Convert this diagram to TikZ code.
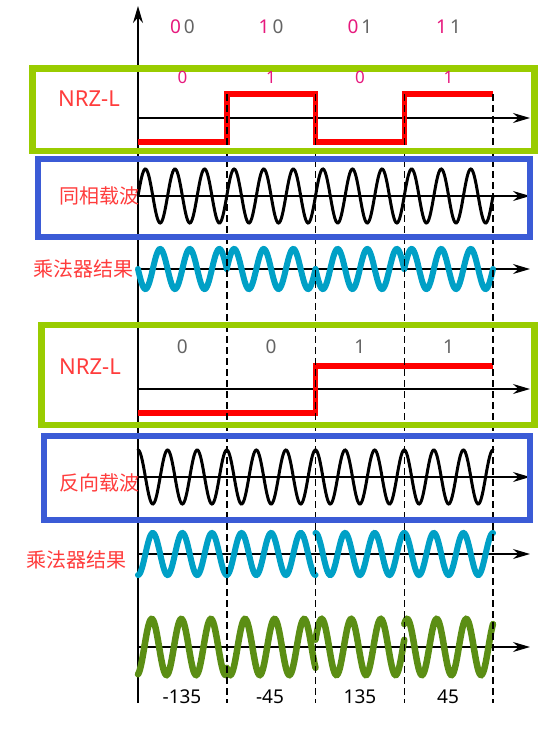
\documentclass[tikz,border=0pt]{standalone}
\usepackage{fontspec}
\setmainfont{Noto Sans}
\newfontfamily\cjk{Noto Sans CJK SC}
\usetikzlibrary{arrows.meta}
\definecolor{txtred}{RGB}{255,60,60}
\definecolor{nrzred}{RGB}{255,0,0}
\definecolor{boxgreen}{RGB}{153,204,0}
\definecolor{boxblue}{RGB}{59,91,214}
\definecolor{wavecyan}{RGB}{0,160,198}
\definecolor{waveolive}{RGB}{91,142,20}
\definecolor{bitmag}{RGB}{230,25,125}
\definecolor{bitgray}{RGB}{100,100,100}
\begin{document}
\begin{tikzpicture}[x=1pt,y=-1pt,
  axis/.style={line width=1.3pt,-{Stealth[length=17pt,width=10pt]}},
  bitline/.style={line width=1.5pt,dash pattern=on 7pt off 4pt},
  nrz/.style={nrzred,line width=5.5pt},
  carrier/.style={line width=3pt,line cap=round},
  mulwave/.style={wavecyan,line width=6pt,line cap=round},
  sumwave/.style={waveolive,line width=6.5pt,line cap=round},
  greenframe/.style={boxgreen,line width=6.5pt},
  blueframe/.style={boxblue,line width=6pt},
  namelbl/.style={txtred,font=\fontsize{22}{26}\selectfont},
  cjklbl/.style={txtred,font=\fontsize{20}{24}\selectfont\cjk},
  pairlbl/.style={font=\fontsize{19}{22}\selectfont},
  bitlbl/.style={font=\fontsize{17}{20}\selectfont},
  phaselbl/.style={font=\fontsize{19}{22}\selectfont}]
\useasboundingbox (0,0) rectangle (543,734);
% axes
\coordinate (vbot) at (138,703);
\coordinate (vtop) at (138,6);
\draw[axis] (vbot) -- (vtop);
\foreach \n/\y in {nrzA/118,carA/196,mulA/269,nrzB/389,carB/477,mulB/554,sum/647}{
  \coordinate (\n-l) at (138,\y);
  \coordinate (\n-r) at (530,\y);
  \draw[axis] (\n-l) -- (\n-r);
}
% NRZ-L signals
\draw[nrz] (138,142) -- (226.75,142) -- (226.75,94) -- (315.5,94) -- (315.5,142) -- (404.25,142) -- (404.25,94) -- (493,94);
\draw[nrz] (138,413) -- (315.5,413) -- (315.5,366) -- (493,366);
% carriers
\draw[carrier] plot[domain=138:493,samples=400] (\x,{196-27*sin(12.169*(\x-138))});
\draw[carrier] plot[domain=138:493,samples=400] (\x,{477-27*cos(12.169*(\x-138))});
% multiplier outputs
\foreach \a/\b/\sg in {138/226.75/-1,226.75/315.5/1,315.5/404.25/-1,404.25/493/1}
  \draw[mulwave] plot[domain=\a:\b,samples=100] (\x,{269-20*(\sg)*sin(12.169*(\x-138))});
\foreach \a/\b/\sg in {138/315.5/-1,315.5/493/1}
  \draw[mulwave] plot[domain=\a:\b,samples=200] (\x,{554-21*(\sg)*cos(12.169*(\x-138))});
% sum of both branches
\foreach \a/\b/\ph in {138/226.75/167,226.75/315.5/222,315.5/404.25/75,404.25/493/35}
  \draw[sumwave] plot[domain=\a:\b,samples=100] (\x,{647-28*cos(12.169*(\x-\a)-\ph)});
% symbol borders
\foreach \n/\x in {b1/226.75,b2/315.5,b3/404.25,b4/493}{
  \coordinate (\n-t) at (\x,94);
  \coordinate (\n-b) at (\x,703);
  \draw[bitline] (\n-t) -- (\n-b);
}
% frames
\draw[greenframe] (32.5,68.5) rectangle (534.5,151);
\draw[blueframe] (37.5,159) rectangle (529.5,237);
\draw[greenframe] (41.5,325) rectangle (534.5,425);
\draw[blueframe] (43.5,436) rectangle (529.5,520);
% labels
\node[pairlbl] (p1) at (182.4,27) {\textcolor{bitmag}{0}\hspace{3pt}\textcolor{bitgray}{0}};
\node[pairlbl] (p2) at (271.1,27) {\textcolor{bitmag}{1}\hspace{3pt}\textcolor{bitgray}{0}};
\node[pairlbl] (p3) at (359.9,27) {\textcolor{bitmag}{0}\hspace{3pt}\textcolor{bitgray}{1}};
\node[pairlbl] (p4) at (448.6,27) {\textcolor{bitmag}{1}\hspace{3pt}\textcolor{bitgray}{1}};
\node[bitlbl,bitmag] (i1) at (182.4,77) {0};
\node[bitlbl,bitmag] (i2) at (271.1,77) {1};
\node[bitlbl,bitmag] (i3) at (359.9,77) {0};
\node[bitlbl,bitmag] (i4) at (448.6,77) {1};
\node[bitlbl,bitgray,font=\fontsize{19}{22}\selectfont] (q1) at (182.4,347) {0};
\node[bitlbl,bitgray,font=\fontsize{19}{22}\selectfont] (q2) at (271.1,347) {0};
\node[bitlbl,bitgray,font=\fontsize{19}{22}\selectfont] (q3) at (359.9,347) {1};
\node[bitlbl,bitgray,font=\fontsize{19}{22}\selectfont] (q4) at (448.6,347) {1};
\node[namelbl] (nrzI) at (89,99) {NRZ-L};
\node[namelbl] (nrzQ) at (90,367) {NRZ-L};
\node[cjklbl] (carI) at (99,196) {同相载波};
\node[cjklbl] (mulI) at (83,269) {乘法器结果};
\node[cjklbl] (carQ) at (99,483) {反向载波};
\node[cjklbl] (mulQ) at (77,560) {乘法器结果};
\node[phaselbl] (ph1) at (182,697) {-135};
\node[phaselbl] (ph2) at (270,697) {-45};
\node[phaselbl] (ph3) at (360,697) {135};
\node[phaselbl] (ph4) at (448,697) {45};
\end{tikzpicture}
\end{document}
